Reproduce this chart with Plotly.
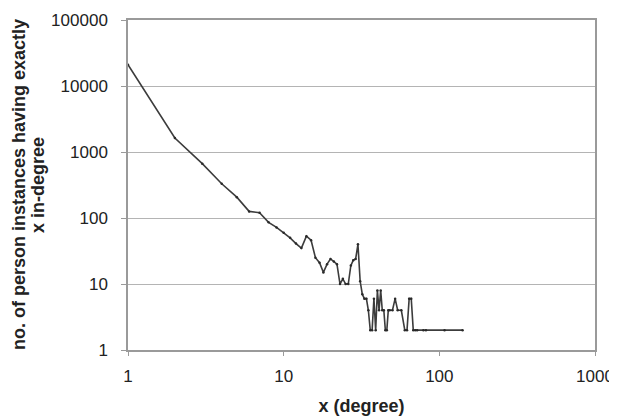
import plotly.graph_objects as go

# in-degree x and number of person instances with exactly x in-degree
degree = [1, 2, 3, 4, 5, 6, 7, 8, 9, 10,
          11, 12, 13, 14, 15, 16, 17, 18, 19, 20,
          21, 22, 23, 24, 25, 26, 27, 28, 29, 30,
          31, 32, 33, 34, 35, 36, 37, 38, 39, 40,
          41, 42, 43, 44, 45, 46, 47, 48, 50, 52,
          54, 57, 60, 62, 64, 66, 68, 70, 72, 79,
          82, 108, 141]
count = [21000, 1630, 665, 330, 207, 126, 120, 86, 72, 60,
         50, 41, 35, 53, 46, 25, 21, 15, 20, 24,
         22, 20, 10, 12, 10, 10, 19, 23, 24, 40,
         11, 7, 6, 6, 4, 2, 2, 6, 2, 8,
         4, 8, 4, 4, 2, 2, 4, 4, 4, 6,
         4, 4, 2, 2, 6, 6, 2, 2, 2, 2,
         2, 2, 2]

x_ticks = [1, 10, 100, 1000]
x_tick_labels = ["1", "10", "100", "1000"]
y_ticks = [1, 10, 100, 1000, 10000, 100000]
y_tick_labels = ["1", "10", "100", "1000", "10000", "100000"]
y_title_lines = ["no. of person instances having exactly", "x in-degree"]
x_title = "x (degree)"

FONT = "Liberation Sans, Arial, sans-serif"

fig = go.Figure()
fig.add_trace(go.Scatter(
    x=degree, y=count, mode="lines+markers",
    line=dict(color="#3c3c3c", width=1.6),
    marker=dict(color="#2a2a2a", size=2.5, symbol="circle"),
    showlegend=False,
))

fig.update_layout(
    width=609, height=408,
    margin=dict(l=120, r=22, t=12, b=66),
    paper_bgcolor="white", plot_bgcolor="white",
    font=dict(family=FONT, size=17, color="#222222"),
    xaxis=dict(
        type="log", range=[0, 3], automargin=False,
        tickvals=x_ticks, ticktext=x_tick_labels,
        showgrid=False, zeroline=False,
        showline=True, linecolor="#9a9a9a", linewidth=1.5, mirror=True,
        ticks="outside", ticklen=4, tickcolor="#9a9a9a",
        ticklabelstandoff=6,
        tickfont=dict(size=17),
        title=dict(text="<b>" + x_title + "</b>", font=dict(size=18), standoff=14),
    ),
    yaxis=dict(
        type="log", range=[0, 5], automargin=False,
        tickvals=y_ticks, ticktext=y_tick_labels,
        showgrid=True, gridcolor="#b4b4b4", gridwidth=1.2,
        zeroline=False,
        showline=True, linecolor="#9a9a9a", linewidth=1.5, mirror=True,
        ticks="outside", ticklen=5, tickcolor="#9a9a9a",
        ticklabelstandoff=10,
        tickfont=dict(size=17),
    ),
)

for line_text, shift in zip(y_title_lines, [-109, -90]):
    fig.add_annotation(
        text="<b>" + line_text + "</b>", textangle=-90,
        xref="paper", yref="paper", x=0, y=0.5,
        xanchor="center", yanchor="middle", xshift=shift,
        showarrow=False, font=dict(size=18, family=FONT, color="#222222"),
    )

fig.write_html("out.html")
